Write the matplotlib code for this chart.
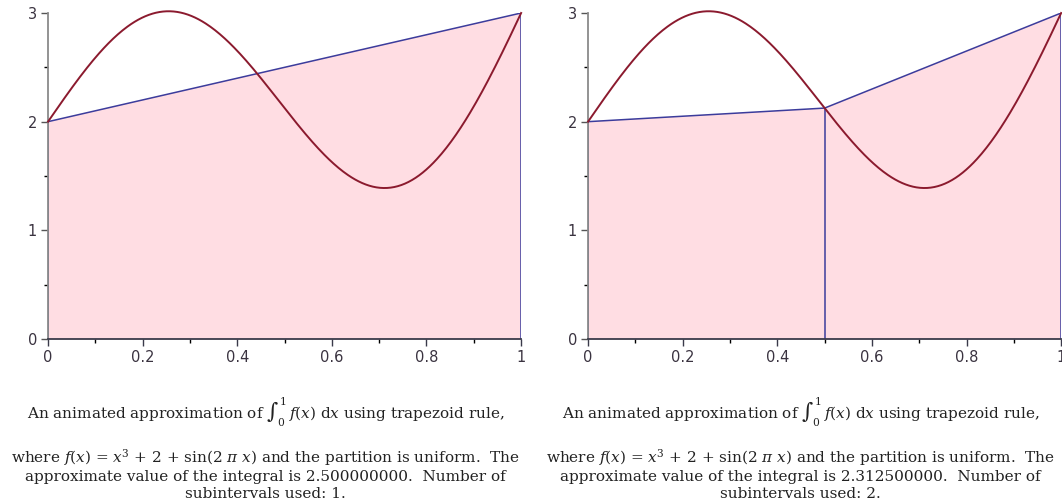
import matplotlib.pyplot as plt
import numpy as np
from matplotlib.ticker import MultipleLocator

# function shown in the caption: f(x) = x^3 + 2 + sin(2 pi x)
def f(x):
    return x ** 3 + 2 + np.sin(2 * np.pi * x)

# trapezoid partition nodes for each panel
nodes_1 = [0.0, 1.0]
nodes_2 = [0.0, 0.5, 1.0]
approx_values = ["2.500000000", "2.312500000"]
subintervals = [1, 2]

curve_color = '#8b1a2e'
edge_color = '#3c3c9c'
fill_color = '#ffdde3'
text_color = '#3a3340'

plt.rcParams.update({'font.family': 'DejaVu Sans', 'mathtext.fontset': 'dejavuserif'})
fig = plt.figure(figsize=(10.62, 5.04), dpi=100)

panels = [(0.0452, nodes_1, approx_values[0], subintervals[0], 0.25),
          (0.5537, nodes_2, approx_values[1], subintervals[1], 0.754)]

for left, nodes, approx, n, xc in panels:
    ax = fig.add_axes([left, 0.3274, 0.4455, 0.6468])
    xs = np.array(nodes)
    ys = f(xs)
    # trapezoids
    poly_x = np.concatenate([[xs[0]], xs, [xs[-1]]])
    poly_y = np.concatenate([[0], ys, [0]])
    ax.fill(poly_x, poly_y, color=fill_color, lw=0, zorder=1)
    ax.plot(xs, ys, color=edge_color, lw=1.1, zorder=2)
    for xv, yv in zip(xs, ys):
        ax.plot([xv, xv], [0, yv], color=edge_color, lw=1.1, zorder=2)
    # the function
    xx = np.linspace(0, 1, 400)
    ax.plot(xx, f(xx), color=curve_color, lw=1.4, zorder=3, clip_on=False)

    ax.set_xlim(0, 1)
    ax.set_ylim(0, 3)
    ax.spines['top'].set_visible(False)
    ax.spines['right'].set_visible(False)
    ax.spines['left'].set_color('#8a8a8a')
    ax.spines['left'].set_linewidth(1.3)
    ax.spines['bottom'].set_color('#3a3a4a')
    ax.spines['bottom'].set_linewidth(1.3)
    ax.xaxis.set_minor_locator(MultipleLocator(0.1))
    ax.yaxis.set_minor_locator(MultipleLocator(0.5))
    ax.set_xticks([0, 0.2, 0.4, 0.6, 0.8, 1])
    ax.set_xticklabels(['0', '0.2', '0.4', '0.6', '0.8', '1'])
    ax.set_yticks([0, 1, 2, 3])
    ax.set_yticklabels(['0', '1', '2', '3'])
    ax.tick_params(axis='both', which='major', length=5, width=1, labelsize=10.5,
                   labelcolor=text_color, pad=3)
    ax.tick_params(axis='both', which='minor', length=3, width=1)
    ax.tick_params(axis='y', colors='#555555', labelcolor=text_color)
    ax.tick_params(axis='x', colors='#3a3a4a', labelcolor=text_color)

    # caption
    line1 = r"An animated approximation of $\int_{0}^{1}\, f(x)\ \mathrm{d}x$ using trapezoid rule,"
    line2 = (r"where $f(x)$ = $x^3$ + 2 + sin$\left(2\ \pi\ x\right)$ and the partition is uniform.  The"
             + "\napproximate value of the integral is " + approx + ".  Number of"
             + "\nsubintervals used: " + str(n) + ".")
    fig.text(xc, 1 - 412 / 504, line1, ha='center', va='center', fontsize=11,
             family='DejaVu Serif', color='#222222')
    fig.text(xc, 1 - 474 / 504, line2, ha='center', va='center', fontsize=11,
             family='DejaVu Serif', color='#222222', linespacing=1.2)

fig.savefig('out.png', dpi=100)
